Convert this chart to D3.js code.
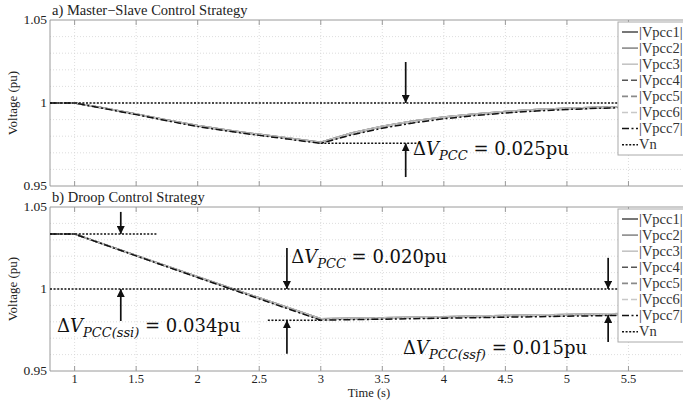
<!DOCTYPE html>
<html>
<head>
<meta charset="utf-8">
<script src="https://cdn.jsdelivr.net/npm/d3@7"></script>
<style>
  body { margin: 0; background: #fff; }
  svg { display: block; font-family: "Liberation Serif", serif; }
</style>
</head>
<body>
<svg id="chart" width="683" height="400"></svg>
<script>
// time axis (s)
const timeTop = [0.8, 1, 1.25, 1.5, 1.75, 2, 2.25, 2.5, 2.75, 3, 3.25, 3.5, 3.75, 4, 4.25, 4.5, 4.75, 5, 5.25, 5.5, 5.75, 6];
const timeBot = [0.8, 1, 1.5, 2, 2.5, 3, 3.5, 4, 4.5, 5, 5.5, 6];

// a) master-slave |Vpcc| (pu)
const topVpcc1to3 = [1, 1, 0.9968, 0.9934, 0.9898, 0.9864, 0.9836, 0.9811, 0.9787, 0.9764, 0.9819, 0.9860, 0.9892, 0.9916, 0.9934, 0.9949, 0.9960, 0.9968, 0.9974, 0.9979, 0.9982, 0.9984];
const topVpcc4to6 = [1, 1, 0.9967, 0.9932, 0.9896, 0.9861, 0.9833, 0.9808, 0.9784, 0.9761, 0.9814, 0.9854, 0.9886, 0.9911, 0.9929, 0.9944, 0.9956, 0.9964, 0.9971, 0.9976, 0.9979, 0.9981];
const topVpcc7 = [1, 1, 0.9965, 0.9930, 0.9893, 0.9858, 0.9830, 0.9805, 0.9781, 0.9757, 0.9808, 0.9848, 0.9880, 0.9905, 0.9924, 0.9940, 0.9952, 0.9961, 0.9968, 0.9973, 0.9977, 0.9979];

// b) droop |Vpcc| (pu)
const botVpcc1to3 = [1.0335, 1.0335, 1.0204, 1.0074, 0.9946, 0.9818, 0.9825, 0.9831, 0.9838, 0.9844, 0.9850, 0.9855];
const botVpcc4to6 = [1.0335, 1.0335, 1.0203, 1.0072, 0.9943, 0.9814, 0.9820, 0.9826, 0.9833, 0.9839, 0.9845, 0.9850];
const botVpcc7 = [1.0335, 1.0335, 1.0202, 1.0070, 0.9940, 0.9810, 0.9816, 0.9822, 0.9828, 0.9834, 0.9840, 0.9845];

const vn = [1, 1];
const vnTime = [0.8, 6];

const legendLabels = ["|Vpcc1|", "|Vpcc2|", "|Vpcc3|", "|Vpcc4|", "|Vpcc5|", "|Vpcc6|", "|Vpcc7|", "Vn"];
const xTicks = [1, 1.5, 2, 2.5, 3, 3.5, 4, 4.5, 5, 5.5];
const yTickLabels = [0.95, 1, 1.05];
const yGrid = [0.96, 0.97, 0.98, 0.99, 1, 1.01, 1.02, 1.03, 1.04];

// line styles per legend entry
const styles = [
  {color: "#555", dash: null, w: 1.6},
  {color: "#8a8a8a", dash: null, w: 1.6},
  {color: "#c4c4c4", dash: null, w: 1.6},
  {color: "#555", dash: "6,3", w: 1.6},
  {color: "#8a8a8a", dash: "6,3", w: 1.6},
  {color: "#c8c8c8", dash: "6,3", w: 1.6},
  {color: "#111", dash: "7,2.5,2,2.5", w: 1.5},
  {color: "#111", dash: "2,1.6", w: 1.5}
];

const svg = d3.select("#chart");
const x = d3.scaleLinear().domain([0.8, 6]).range([50, 690]);

const panels = [
  {
    title: "a) Master\u2212Slave Control Strategy",
    y: d3.scaleLinear().domain([0.95, 1.05]).range([186, 20]),
    time: timeTop,
    series: [topVpcc1to3, topVpcc1to3, topVpcc1to3, topVpcc4to6, topVpcc4to6, topVpcc4to6, topVpcc7],
    legendTop: 22,
    showX: false
  },
  {
    title: "b) Droop Control Strategy",
    y: d3.scaleLinear().domain([0.95, 1.05]).range([371, 207]),
    time: timeBot,
    series: [botVpcc1to3, botVpcc1to3, botVpcc1to3, botVpcc4to6, botVpcc4to6, botVpcc4to6, botVpcc7],
    legendTop: 209,
    showX: true
  }
];

svg.append("defs").append("marker")
  .attr("id", "head")
  .attr("viewBox", "0 0 10 10")
  .attr("refX", 10).attr("refY", 5)
  .attr("markerWidth", 8).attr("markerHeight", 8)
  .attr("markerUnits", "userSpaceOnUse")
  .attr("orient", "auto")
  .append("path").attr("d", "M0,0 L10,5 L0,10 z").attr("fill", "#111");

panels.forEach((p, pi) => {
  const y = p.y;
  const g = svg.append("g");
  const top = y.range()[1], bottom = y.range()[0];

  // grid
  g.selectAll(".hg").data(yGrid).enter().append("line")
    .attr("x1", x(0.8)).attr("x2", 683)
    .attr("y1", d => y(d)).attr("y2", d => y(d))
    .attr("stroke", "#d4d4d4").attr("stroke-width", 0.8).attr("stroke-dasharray", "1,2");
  g.selectAll(".vg").data(xTicks).enter().append("line")
    .attr("x1", d => x(d)).attr("x2", d => x(d))
    .attr("y1", top).attr("y2", bottom)
    .attr("stroke", "#d4d4d4").attr("stroke-width", 0.8).attr("stroke-dasharray", "1,2");

  // frame
  g.append("line").attr("x1", x(0.8)).attr("x2", 683).attr("y1", top).attr("y2", top).attr("stroke", "#9a9a9a");
  g.append("line").attr("x1", x(0.8)).attr("x2", 683).attr("y1", bottom).attr("y2", bottom).attr("stroke", "#9a9a9a");
  g.append("line").attr("x1", x(0.8)).attr("x2", x(0.8)).attr("y1", top).attr("y2", bottom).attr("stroke", "#9a9a9a");

  // ticks inward
  g.selectAll(".tt").data(xTicks).enter().append("line")
    .attr("x1", d => x(d)).attr("x2", d => x(d)).attr("y1", top).attr("y2", top + 5)
    .attr("stroke", "#9a9a9a");
  g.selectAll(".tb").data(xTicks).enter().append("line")
    .attr("x1", d => x(d)).attr("x2", d => x(d)).attr("y1", bottom).attr("y2", bottom - 5)
    .attr("stroke", "#9a9a9a");

  // y labels
  g.selectAll(".yl").data(yTickLabels).enter().append("text")
    .attr("x", 47).attr("y", d => y(d) + 4)
    .attr("text-anchor", "end").attr("font-size", 13.5).attr("fill", "#222")
    .text(d => d);

  g.append("text")
    .attr("transform", `translate(17,${(top + bottom) / 2}) rotate(-90)`)
    .attr("text-anchor", "middle").attr("font-size", 13).attr("fill", "#222")
    .text("Voltage (pu)");

  g.append("text").attr("x", 52).attr("y", top - 5)
    .attr("font-size", 14.5).attr("fill", "#222").text(p.title);

  if (p.showX) {
    g.selectAll(".xl").data(xTicks).enter().append("text")
      .attr("x", d => x(d)).attr("y", bottom + 11.5)
      .attr("text-anchor", "middle").attr("font-size", 12.5).attr("fill", "#222")
      .text(d => d);
    g.append("text").attr("x", 369).attr("y", 396.5)
      .attr("text-anchor", "middle").attr("font-size", 12.5).attr("fill", "#222")
      .text("Time (s)");
  }

  // curves
  const line = d3.line().x(d => x(d[0])).y(d => y(d[1]));
  p.series.forEach((vals, si) => {
    const s = styles[si];
    g.append("path")
      .datum(p.time.map((t, i) => [t, vals[i]]))
      .attr("d", line)
      .attr("fill", "none")
      .attr("stroke", s.color).attr("stroke-width", s.w)
      .attr("stroke-dasharray", s.dash);
  });
  g.append("path")
    .datum(vnTime.map((t, i) => [t, vn[i]]))
    .attr("d", line)
    .attr("fill", "none").attr("stroke", styles[7].color)
    .attr("stroke-width", styles[7].w).attr("stroke-dasharray", styles[7].dash);

  // legend
  const lg = g.append("g").attr("transform", `translate(618,${p.legendTop})`);
  lg.append("rect").attr("x", 0).attr("y", 0).attr("width", 80).attr("height", 133)
    .attr("fill", "#fff").attr("stroke", "#aaa").attr("stroke-width", 1);
  legendLabels.forEach((lab, i) => {
    const s = styles[i];
    const cy = 10 + i * 16.1;
    lg.append("line").attr("x1", 4).attr("x2", 20).attr("y1", cy).attr("y2", cy)
      .attr("stroke", s.color).attr("stroke-width", s.w).attr("stroke-dasharray", s.dash);
    lg.append("text").attr("x", 21).attr("y", cy + 4.5)
      .attr("font-size", 14.5).attr("fill", "#333").text(lab);
  });
});

// annotations in data coordinates
const topY = panels[0].y, botY = panels[1].y;

const arrows = [
  {y: topY, t: 3.69, from: 1.0247, to: 1.0},
  {y: topY, t: 3.69, from: 0.9554, to: 0.9757},
  {y: botY, t: 1.375, from: 1.047, to: 1.0335},
  {y: botY, t: 1.375, from: 0.9805, to: 1.0},
  {y: botY, t: 2.725, from: 1.025, to: 1.0},
  {y: botY, t: 2.725, from: 0.9605, to: 0.981},
  {y: botY, t: 5.335, from: 1.019, to: 1.0},
  {y: botY, t: 5.335, from: 0.9677, to: 0.9842}
];
const guides = [
  {y: topY, t0: 3.0, t1: 3.82, v: 0.9757},
  {y: botY, t0: 0.8, t1: 1.67, v: 1.0335},
  {y: botY, t0: 2.57, t1: 3.0, v: 0.981}
];
const labels = [
  {y: topY, t: 3.75, v: 0.9688, sub: "PCC", val: "0.025pu"},
  {y: botY, t: 0.857, v: 0.9735, sub: "PCC(ssi)", val: "0.034pu"},
  {y: botY, t: 2.76, v: 1.0158, sub: "PCC", val: "0.020pu"},
  {y: botY, t: 3.668, v: 0.9603, sub: "PCC(ssf)", val: "0.015pu"}
];

const ann = svg.append("g");
guides.forEach(d => {
  ann.append("line")
    .attr("x1", x(d.t0)).attr("x2", x(d.t1)).attr("y1", d.y(d.v)).attr("y2", d.y(d.v))
    .attr("stroke", "#111").attr("stroke-width", 1.5).attr("stroke-dasharray", "2,1.6");
});
arrows.forEach(d => {
  ann.append("line")
    .attr("x1", x(d.t)).attr("x2", x(d.t)).attr("y1", d.y(d.from)).attr("y2", d.y(d.to))
    .attr("stroke", "#111").attr("stroke-width", 1.7)
    .attr("marker-end", "url(#head)");
});
labels.forEach(d => {
  const tx = ann.append("text")
    .attr("x", x(d.t)).attr("y", d.y(d.v))
    .attr("font-family", "DejaVu Serif").attr("font-size", 18).attr("fill", "#111");
  tx.append("tspan").text("\u0394");
  tx.append("tspan").attr("font-style", "italic").text("V");
  tx.append("tspan").attr("font-style", "italic").attr("font-size", 13).attr("dy", 5).text(d.sub);
  tx.append("tspan").attr("dy", -5).text(" = " + d.val);
});
</script>
</body>
</html>
